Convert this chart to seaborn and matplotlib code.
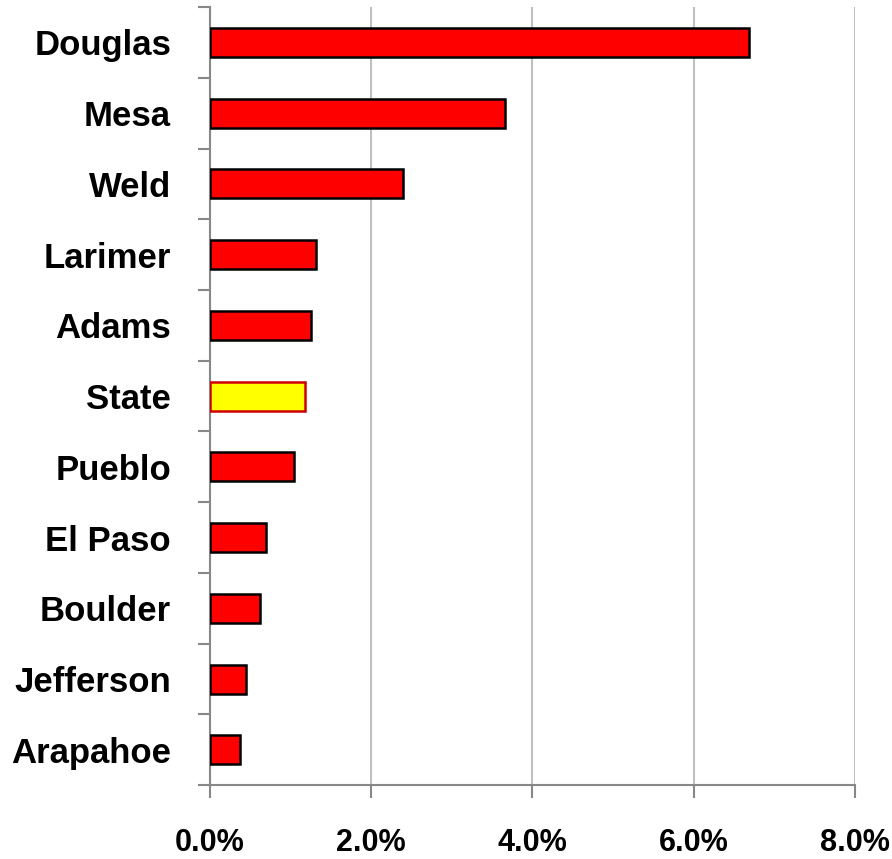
import matplotlib
matplotlib.use("Agg")
import matplotlib.pyplot as plt
from matplotlib.ticker import FixedLocator, MultipleLocator, PercentFormatter
import seaborn as sns
import pandas as pd


# ___ Data ___

counties = ["Douglas", "Mesa", "Weld", "Larimer", "Adams", "State",
            "Pueblo", "El Paso", "Boulder", "Jefferson", "Arapahoe"]
growth_pct = [6.69, 3.66, 2.40, 1.31, 1.25, 1.18, 1.04, 0.69, 0.62, 0.45, 0.37]
highlight = "State"

fill_colors = ["#ffff00" if c == highlight else "#ff0000" for c in counties]
edge_colors = ["#cc0000" if c == highlight else "#000000" for c in counties]

df = pd.DataFrame({"county": counties, "growth": growth_pct})

# ___ Plot ___

sns.set_theme(style="white")
plt.rcParams["font.family"] = ["Liberation Sans Narrow", "Liberation Sans", "DejaVu Sans"]

fig = plt.figure(figsize=(8.92, 8.59), dpi=100)
ax = fig.add_axes([0.2354, 0.086, 0.7231, 0.9057])

sns.barplot(data=df, x="growth", y="county", hue="county", palette=fill_colors,
            saturation=1, orient="h", width=0.41, legend=False, ax=ax, zorder=3)

for patch, ec in zip(ax.patches, edge_colors):
    patch.set_edgecolor(ec)
    patch.set_linewidth(1.8)

ax.set_xlim(0, 8)
ax.set_ylim(len(counties) - 0.5, -0.5)
ax.xaxis.set_major_locator(MultipleLocator(2))
ax.xaxis.set_major_formatter(PercentFormatter(xmax=100, decimals=1))
ax.grid(axis="x", color="#c0c0c0", linewidth=1.5, zorder=0)
ax.grid(axis="y", visible=False)

# category boundary ticks on the y axis
ax.yaxis.set_minor_locator(FixedLocator([i - 0.5 for i in range(len(counties) + 1)]))
ax.tick_params(axis="y", which="major", length=0, pad=28)
ax.tick_params(axis="y", which="minor", left=True, length=9, width=1.5, color="#888888")
ax.tick_params(axis="x", which="major", bottom=True, length=9, width=1.5, color="#888888", pad=22)

for label in ax.get_yticklabels():
    label.set_fontweight("bold")
    label.set_fontsize(25)
    label.set_color("black")
for label in ax.get_xticklabels():
    label.set_fontweight("bold")
    label.set_fontsize(22)
    label.set_color("black")

for side in ["top", "right"]:
    ax.spines[side].set_visible(False)
for side in ["left", "bottom"]:
    ax.spines[side].set_color("#888888")
    ax.spines[side].set_linewidth(1.5)

ax.set_xlabel("")
ax.set_ylabel("")

fig.savefig("out.png", dpi=100)
